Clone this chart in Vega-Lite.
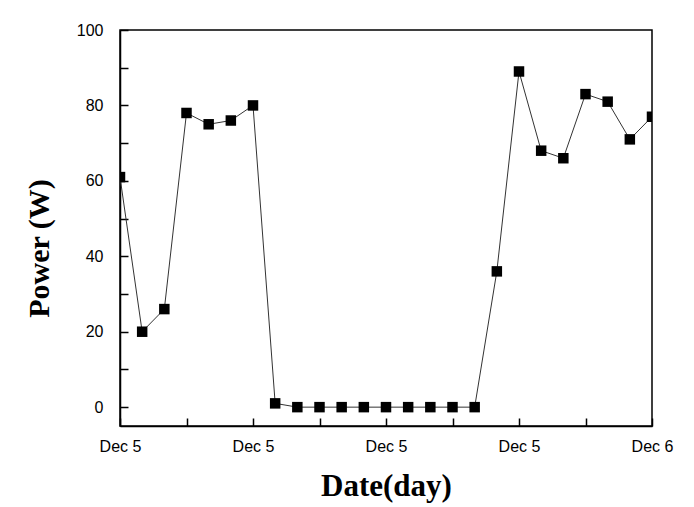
{
  "$schema": "https://vega.github.io/schema/vega-lite/v6.json",
  "autosize": "none",
  "width": 532,
  "height": 396,
  "padding": {"left": 120, "top": 30, "right": 42, "bottom": 81},
  "background": "white",
  "config": {
    "view": {"stroke": "black", "strokeWidth": 1.5},
    "axis": {"grid": false, "domainColor": "black", "domainWidth": 1.5, "tickColor": "black", "tickWidth": 1.5,
      "labelFont": "Liberation Sans", "labelFontSize": 16, "labelColor": "black",
      "titleFont": "Liberation Serif", "titleFontWeight": "bold", "titleColor": "black"}
  },
  "data": {"values": [
    {"hour": 0, "power": 61}, {"hour": 1, "power": 20}, {"hour": 2, "power": 26}, {"hour": 3, "power": 78},
    {"hour": 4, "power": 75}, {"hour": 5, "power": 76}, {"hour": 6, "power": 80}, {"hour": 7, "power": 1},
    {"hour": 8, "power": 0}, {"hour": 9, "power": 0}, {"hour": 10, "power": 0}, {"hour": 11, "power": 0},
    {"hour": 12, "power": 0}, {"hour": 13, "power": 0}, {"hour": 14, "power": 0}, {"hour": 15, "power": 0},
    {"hour": 16, "power": 0}, {"hour": 17, "power": 36}, {"hour": 18, "power": 89}, {"hour": 19, "power": 68},
    {"hour": 20, "power": 66}, {"hour": 21, "power": 83}, {"hour": 22, "power": 81}, {"hour": 23, "power": 71},
    {"hour": 24, "power": 77}
  ]},
  "encoding": {
    "x": {"field": "hour", "type": "quantitative", "scale": {"domain": [0, 24], "nice": false, "zero": false},
      "axis": {"values": [0, 3, 6, 9, 12, 15, 18, 21, 24],
        "labelExpr": "datum.value % 6 !== 0 ? '' : (datum.value === 24 ? 'Dec 6' : 'Dec 5')",
        "tickSize": -8,
        "encode": {"ticks": {"update": {"y2": {"signal": "datum.value % 6 === 0 ? -8 : -4"}}}},
        "labelPadding": 20, "labelFlush": false, "labelOverlap": false,
        "title": "Date(day)", "titleFontSize": 31, "titlePadding": 17}},
    "y": {"field": "power", "type": "quantitative", "scale": {"domain": [-5, 100], "nice": false, "zero": false},
      "axis": {"values": [0, 10, 20, 30, 40, 50, 60, 70, 80, 90, 100],
        "labelExpr": "datum.value % 20 !== 0 ? '' : datum.label",
        "tickSize": -8,
        "encode": {"ticks": {"update": {"x2": {"signal": "datum.value % 20 === 0 ? 8 : 4"}}}},
        "labelPadding": 25, "labelFlush": false, "labelOverlap": false,
        "title": "Power (W)", "titleFontSize": 30, "titlePadding": 22, "titleY": 218}}
  },
  "layer": [
    {"mark": {"type": "line", "color": "#333333", "strokeWidth": 1, "clip": true}},
    {"mark": {"type": "square", "color": "black", "filled": true, "opacity": 1, "size": 110, "clip": true}}
  ]
}
